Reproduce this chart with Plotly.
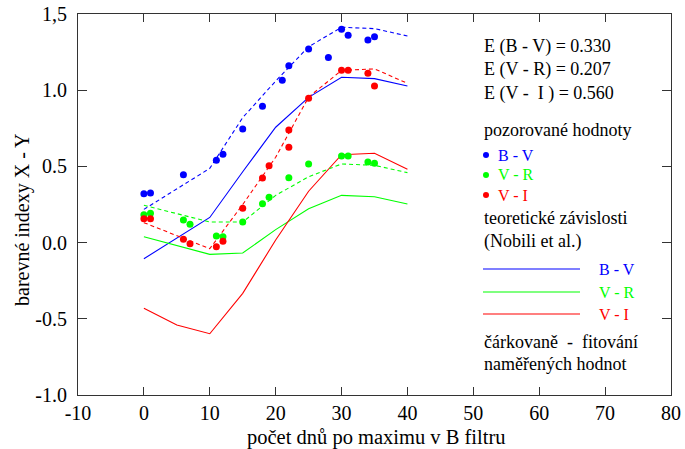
import plotly.graph_objects as go

# ---------------- data ----------------
bv_x = [0, 1, 6, 11, 12, 15, 18, 21, 22, 25, 28, 30, 31, 34, 35]
bv_y = [0.32, 0.325, 0.445, 0.54, 0.58, 0.745, 0.895, 1.065, 1.16, 1.27, 1.215, 1.40, 1.36, 1.33, 1.35]

vr_x = [0, 1, 6, 7, 11, 12, 15, 18, 19, 22, 25, 30, 31, 34, 35]
vr_y = [0.183, 0.192, 0.148, 0.12, 0.043, 0.039, 0.135, 0.255, 0.297, 0.426, 0.516, 0.568, 0.568, 0.529, 0.52]

vi_x = [0, 1, 6, 7, 11, 12, 15, 18, 19, 22, 22, 25, 30, 31, 34, 35]
vi_y = [0.157, 0.157, 0.022, -0.007, -0.027, 0.009, 0.225, 0.424, 0.505, 0.739, 0.625, 0.947, 1.131, 1.131, 1.111, 1.028]

# theoretical (Nobili et al.)
th_bv_x = [0, 10, 15, 20, 25, 30, 35, 40]
th_bv_y = [-0.106, 0.165, 0.465, 0.757, 0.953, 1.085, 1.076, 1.028]
th_vr_x = [0, 10, 15, 20, 25, 30, 35, 40]
th_vr_y = [0.039, -0.077, -0.068, 0.085, 0.222, 0.310, 0.301, 0.253]
th_vi_x = [0, 5, 10, 15, 20, 25, 30, 35, 40]
th_vi_y = [-0.431, -0.541, -0.598, -0.333, 0.017, 0.337, 0.577, 0.586, 0.481]

# fits (dashed)
fit_bv_x = [0, 5, 10, 15, 20, 25, 30, 35, 40]
fit_bv_y = [0.218, 0.35, 0.487, 0.82, 1.06, 1.285, 1.413, 1.404, 1.356]
fit_vr_x = [0, 5, 10, 15, 20, 25, 30, 35, 40]
fit_vr_y = [0.245, 0.19, 0.135, 0.135, 0.31, 0.432, 0.516, 0.507, 0.459]
fit_vi_x = [0, 5, 10, 15, 20, 25, 30, 35, 40]
fit_vi_y = [0.131, 0.045, -0.04, 0.25, 0.56, 0.955, 1.13, 1.14, 1.045]

x_ticks = [-10, 0, 10, 20, 30, 40, 50, 60, 70, 80]
x_tick_text = ["-10", "0", "10", "20", "30", "40", "50", "60", "70", "80"]
y_ticks = [-1.0, -0.5, 0.0, 0.5, 1.0, 1.5]
y_tick_text = ["-1.0", "-0.5", "0.0", "0.5", "1.0", "1,5"]

BLUE = "#0000ff"
GREEN = "#00ff00"
RED = "#ff0000"
FONT = "Liberation Serif"

# ---------------- figure ----------------
W, H = 685, 449
L, R, T, B = 78, 14, 14, 54
PW, PH = W - L - R, H - T - B


def px(x):
    return (x - L) / PW


def py(y):
    return (H - B - y) / PH


def fnt(size, color="black"):
    return dict(family=FONT, size=size, color=color)


fig = go.Figure()

for xs, ys, c in [(th_bv_x, th_bv_y, BLUE), (th_vr_x, th_vr_y, GREEN), (th_vi_x, th_vi_y, RED)]:
    fig.add_trace(go.Scatter(x=xs, y=ys, mode="lines", line=dict(color=c, width=1.1),
                             showlegend=False, hoverinfo="skip"))
for xs, ys, c in [(fit_bv_x, fit_bv_y, BLUE), (fit_vr_x, fit_vr_y, GREEN), (fit_vi_x, fit_vi_y, RED)]:
    fig.add_trace(go.Scatter(x=xs, y=ys, mode="lines", line=dict(color=c, width=1.1, dash="4px,3px"),
                             showlegend=False, hoverinfo="skip"))
for xs, ys, c in [(bv_x, bv_y, BLUE), (vr_x, vr_y, GREEN), (vi_x, vi_y, RED)]:
    fig.add_trace(go.Scatter(x=xs, y=ys, mode="markers", marker=dict(color=c, size=7),
                             showlegend=False))

axis_col = "#333333"
fig.update_layout(
    width=W, height=H,
    margin=dict(l=L, r=R, t=T, b=B, pad=0, autoexpand=False),
    paper_bgcolor="white", plot_bgcolor="white",
    font=fnt(18),
    xaxis=dict(range=[-10, 80], tickvals=x_ticks, ticktext=x_tick_text, ticks="inside", ticklen=8,
               tickcolor=axis_col, automargin=False,
               showline=True, linecolor=axis_col, linewidth=1, mirror="ticks",
               showgrid=False, zeroline=False, tickfont=fnt(20)),
    yaxis=dict(range=[-1.0, 1.5], tickvals=y_ticks, ticktext=y_tick_text, ticks="inside", ticklen=9,
               tickcolor=axis_col, showline=True, linecolor=axis_col, linewidth=1, automargin=False,
               mirror="ticks", ticklabelstandoff=6,
               showgrid=False, zeroline=False, tickfont=fnt(20)),
)

ann = []
# axis titles
ann.append(dict(text="barevné indexy X - Y", x=px(22), y=py(220), xref="paper", yref="paper",
                textangle=-90, showarrow=False, font=fnt(20), xanchor="center", yanchor="middle"))
ann.append(dict(text="počet dnů po maximu v B filtru", x=px(376), y=py(437), xref="paper", yref="paper",
                showarrow=False, font=fnt(20.5), xanchor="center", yanchor="middle"))

# legend block texts
lx = px(482)
for t, yy in [("E (B - V) = 0.330", 47), ("E (V - R) = 0.207", 69), ("E (V -  I ) = 0.560", 93),
              ("pozorované hodnoty", 130), ("teoretické závislosti", 218), ("(Nobili et al.)", 241),
              ("čárkovaně  -  fitování", 342), ("naměřených hodnot", 364)]:
    ann.append(dict(text=t.replace("  ", "&nbsp; "), x=lx, y=py(yy), xref="paper", yref="paper",
                    showarrow=False, font=fnt(18), xanchor="left", yanchor="middle"))

shapes = []
for lab, c, yy in [("B - V", BLUE, 155), ("V - R", GREEN, 175), ("V - I", RED, 195)]:
    shapes.append(dict(type="circle", xref="paper", yref="paper", xsizemode="pixel", ysizemode="pixel",
                       xanchor=px(486), yanchor=py(yy), x0=-3, x1=3, y0=-3, y1=3,
                       fillcolor=c, line=dict(width=0)))
    ann.append(dict(text=lab, x=px(496), y=py(yy), xref="paper", yref="paper", showarrow=False,
                    font=fnt(16, c), xanchor="left", yanchor="middle"))

for lab, c, yy in [("B - V", BLUE, 269), ("V - R", GREEN, 292), ("V - I", RED, 314)]:
    shapes.append(dict(type="line", xref="paper", yref="paper", x0=px(483), x1=px(580),
                       y0=py(yy), y1=py(yy), line=dict(color=c, width=1.1)))
    ann.append(dict(text=lab, x=px(597), y=py(yy), xref="paper", yref="paper", showarrow=False,
                    font=fnt(16, c), xanchor="left", yanchor="middle"))

fig.update_layout(annotations=ann, shapes=shapes)
fig.write_html("out.html")
